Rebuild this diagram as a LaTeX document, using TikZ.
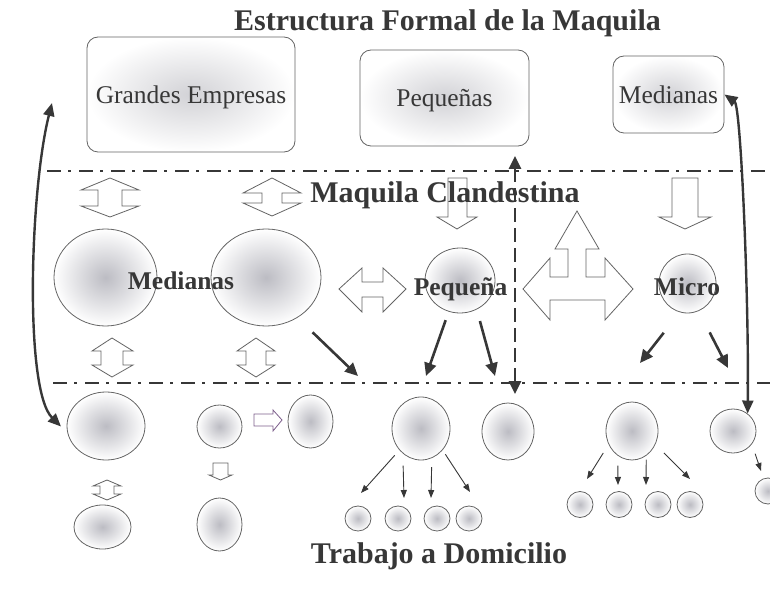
\documentclass[tikz,border=0pt]{standalone}
\usepackage{fontspec}
\setmainfont{Liberation Serif}
\usetikzlibrary{shapes,arrows.meta}
\definecolor{InkGray}{RGB}{55,55,55}
\definecolor{LineGray}{RGB}{100,100,100}
\definecolor{BlobGray}{RGB}{188,188,195}
\definecolor{BoxGray}{RGB}{210,210,214}
\definecolor{ArrowViolet}{RGB}{125,95,140}

\begin{document}
\begin{tikzpicture}[x=1pt, y=-1pt,
  box/.style={draw=LineGray, line width=0.8pt, rounded corners=11pt, inner sep=0pt, text depth=0pt,
    inner color=BoxGray, outer color=white, font=\fontsize{25.5}{27}\selectfont, text=InkGray},
  blob/.style={ellipse, draw=LineGray, line width=0.8pt, inner sep=0pt, inner color=BlobGray, outer color=white},
  blockarrow/.style={draw=LineGray, fill=white, line width=0.8pt, line join=miter},
  sepline/.style={draw=InkGray, line width=2.6pt, dash pattern=on 14pt off 7pt on 3pt off 8pt},
  thick arrow/.style={draw=InkGray, line width=2.6pt, -{Triangle[length=13pt,width=12pt]}},
  bend arrow/.style={draw=InkGray, line width=2.4pt, {Triangle[length=13pt,width=11pt]}-{Triangle[length=13pt,width=11pt]}},
  fine arrow/.style={draw=InkGray, line width=0.9pt, -{Triangle[length=8pt,width=6pt]}},
  heading/.style={font=\fontsize{30}{32}\selectfont\bfseries, text=InkGray, inner sep=0pt, anchor=base},
  tag/.style={font=\fontsize{25.5}{27}\selectfont\bfseries, text=InkGray, inner sep=0pt, anchor=base}
]
\useasboundingbox (0,0) rectangle (770,609); % page 770 x 609

% formal level: companies
\node[box, minimum width=208, minimum height=115] (grandes) at (191,94.5) {Grandes Empresas};
\node[box, minimum width=169, minimum height=96] (pequenas) at (444.5,98) {Pequeñas};
\node[box, minimum width=111, minimum height=77] (medianas) at (668.5,94.5) {Medianas};

% separator lines
\draw[sepline] (47,171) -- (770,171); % upper line
\draw[sepline] (53,383) -- (770,383); % lower line

% clandestine level
\node[blob, minimum width=103, minimum height=97] (medL) at (105.5,277.5) {};
\node[blob, minimum width=110, minimum height=97] (medR) at (266,277.5) {};
\node[blob, minimum width=70, minimum height=65] (peq) at (460,280.5) {};
\node[blob, minimum width=57, minimum height=59] (micro) at (687.5,283.5) {};

% home work level
\node[blob, minimum width=78, minimum height=68] (lowA) at (106,426) {};
\node[blob, minimum width=57, minimum height=44] (lowAb) at (102.5,527) {};
\node[blob, minimum width=45, minimum height=43] (lowB) at (219.5,426.5) {};
\node[blob, minimum width=45, minimum height=53] (lowC) at (310.5,421.5) {};
\node[blob, minimum width=45, minimum height=53] (lowBb) at (219.5,524.5) {};
\node[blob, minimum width=58, minimum height=63] (lowD) at (421,428.5) {};
\node[blob, minimum width=52, minimum height=57] (lowE) at (508,431.5) {};
\node[blob, minimum width=52, minimum height=58] (lowF) at (632,431) {};
\node[blob, minimum width=46, minimum height=44] (lowG) at (733,431) {};
\node[blob, minimum width=26, minimum height=26] (lowH) at (768,491) {};
\foreach \x [count=\i] in {358,398,437,469}
  \node[blob, minimum width=26, minimum height=25] (s\i) at (\x,518.5) {};
\foreach \x [count=\i] in {580,619,658,690}
  \node[blob, minimum width=26, minimum height=26] (t\i) at (\x,504.5) {};

% block arrows
\draw[blockarrow] (110,178) -- (139,190) -- (122,190) -- (122,206) -- (139,206) -- (110,217) -- (81,206) -- (98,206) -- (98,190) -- (81,190) -- cycle; % up-down, top left
\draw[blockarrow] (272,178) -- (301,193) -- (282,193) -- (282,203) -- (301,203) -- (272,216) -- (243,203) -- (262,203) -- (262,193) -- (243,193) -- cycle; % up-down, top centre
\draw[blockarrow] (448,178) -- (467,178) -- (467,217) -- (477,217) -- (457,229) -- (437,217) -- (448,217) -- cycle; % down to Pequena
\draw[blockarrow] (672,178) -- (698,178) -- (698,217) -- (711,217) -- (685,229) -- (659,217) -- (672,217) -- cycle; % down to Micro
\draw[blockarrow] (339,289) -- (362,268) -- (362,282) -- (383,282) -- (383,268) -- (406,289) -- (383,312) -- (383,297) -- (362,297) -- (362,312) -- cycle; % left-right
\draw[blockarrow] (577,211) -- (599,249) -- (586,249) -- (586,277) -- (605,277) -- (605,258) -- (633,289) -- (605,320) -- (605,300)
  -- (550,300) -- (550,320) -- (523,289) -- (550,258) -- (550,277) -- (568,277) -- (568,249) -- (555,249) -- cycle; % three way
\draw[blockarrow] (112,338) -- (133,351) -- (123,351) -- (123,365) -- (133,365) -- (112,377) -- (92,365) -- (101,365) -- (101,351) -- (92,351) -- cycle; % up-down under medL
\draw[blockarrow] (256,338) -- (275,351) -- (266,351) -- (266,365) -- (275,365) -- (256,377) -- (237,365) -- (246,365) -- (246,351) -- (237,351) -- cycle; % up-down under medR
\draw[blockarrow] (107,480) -- (121,486) -- (114,486) -- (114,494) -- (121,494) -- (107,500) -- (93,494) -- (100,494) -- (100,486) -- (93,486) -- cycle; % small up-down
\draw[blockarrow] (213,463) -- (228,463) -- (228,475) -- (232,475) -- (220.5,480) -- (209,475) -- (213,475) -- cycle; % small down
\draw[blockarrow, draw=ArrowViolet] (254,414) -- (273,414) -- (273,410) -- (282,420) -- (273,431) -- (273,426) -- (254,426) -- cycle; % small right

% labels
\node[heading] (title) at (447.5,31) {Estructura Formal de la Maquila};
\node[heading] (clandestina) at (445,203) {Maquila Clandestina};
\node[heading] (domicilio) at (439,563) {Trabajo a Domicilio};
\node[tag] (medLbl) at (181,290) {Medianas};
\node[tag] (peqLbl) at (460.5,295) {Pequeña};
\node[tag] (microLbl) at (687,295) {Micro};

% long links between levels
\coordinate (leftTop) at (52,103);
\draw[bend arrow, shorten >=9pt] (leftTop) .. controls (30,190) and (24,390) .. (lowA.190);
\draw[bend arrow] (medianas.east) .. controls (741,106) and (749,300) .. (lowG.50);
\coordinate (vTop) at (515,156);
\coordinate (vBot) at (515,394);
\draw[InkGray, line width=2.6pt, dash pattern=on 14pt off 6pt, {Triangle[length=13pt,width=12pt]}-{Triangle[length=13pt,width=12pt]}] (vTop) -- (vBot);

% thick arrows down to the home work line
\coordinate (e1) at (358,376);
\coordinate (e2) at (426,376);
\coordinate (e3) at (495,376);
\coordinate (e4) at (640,363);
\coordinate (e5) at (728,368);
\draw[thick arrow, shorten <=21pt] (medR.-52) -- (e1);
\draw[thick arrow, shorten <=9pt] (peq.-110) -- (e2);
\draw[thick arrow, shorten <=12pt] (peq.-60) -- (e3);
\draw[thick arrow, shorten <=26pt] (micro.-105) -- (e4);
\draw[thick arrow, shorten <=24pt] (micro.-68) -- (e5);

% fine arrows to the home workers
\coordinate (f1) at (361,493);
\coordinate (f2) at (404,498);
\coordinate (f3) at (431,498);
\coordinate (f4) at (470,492);
\draw[fine arrow, shorten <=7pt] (lowD.225) -- (f1);
\draw[fine arrow, shorten <=12pt] (lowD.-126) -- (f2);
\draw[fine arrow, shorten <=9pt] (lowD.-70) -- (f3);
\draw[fine arrow, shorten <=5pt] (lowD.-45) -- (f4);
\coordinate (g1) at (587,479);
\coordinate (g2) at (618,485);
\coordinate (g3) at (646,485);
\coordinate (g4) at (690,479);
\draw[fine arrow, shorten <=10pt] (lowF.210) -- (g1);
\draw[fine arrow, shorten <=10pt] (lowF.-120) -- (g2);
\draw[fine arrow, shorten <=4pt] (lowF.-60) -- (g3);
\draw[fine arrow, shorten <=12pt] (lowF.-30) -- (g4);
\coordinate (h1) at (761,471);
\draw[fine arrow, shorten <=10pt] (lowG.-35) -- (h1);

\end{tikzpicture}
\end{document}
